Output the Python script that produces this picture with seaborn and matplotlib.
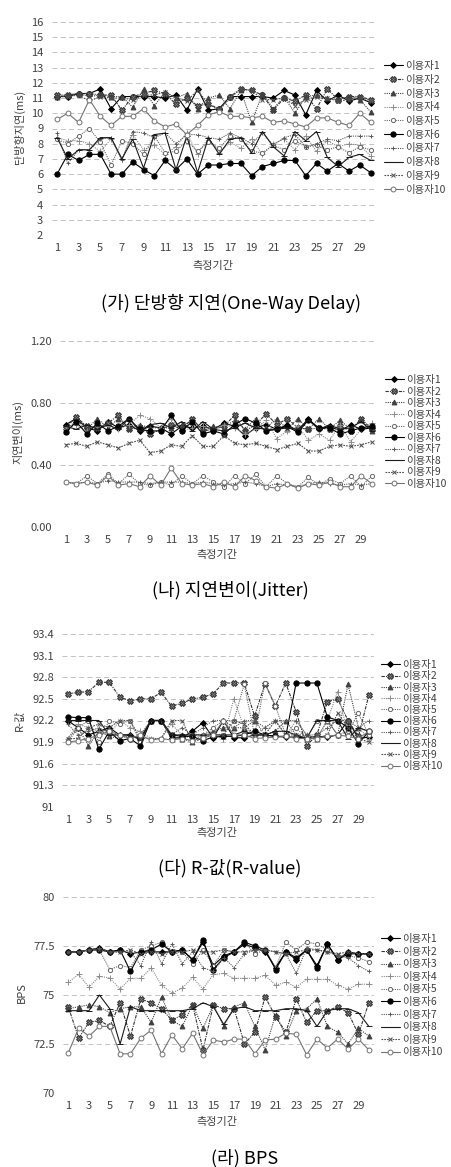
import numpy as np
import pandas as pd
import seaborn as sns
import matplotlib
matplotlib.use("Agg")
import matplotlib.pyplot as plt
from matplotlib.ticker import FixedLocator, FuncFormatter

sns.set_theme(style="white")
plt.rcParams['font.family'] = ['Noto Sans CJK KR', 'DejaVu Sans']

periods = list(range(1, 31))
users = [f"이용자{i}" for i in range(1, 11)]
xtick_labels = [str(v) for v in range(1, 30, 2)]

# ---- (가) One-way delay (ms)
delay1 = [11.1,11.1,11.3,11.3,11.6,10.3,11.1,11.1,11.1,11.1,11.0,11.2,10.2,11.6,10.2,10.3,11.1,11.1,11.1,11.1,11.0,11.5,11.2,9.9,11.5,10.8,11.2,10.8,11.0,10.7]
delay2 = [11.2,11.2,11.3,11.3,11.2,11.2,10.2,11.1,11.3,11.5,11.3,10.6,11.0,10.5,10.6,10.3,11.1,11.6,11.5,11.2,10.2,11.0,10.8,11.2,10.3,11.6,10.9,11.1,11.1,10.9]
delay3 = [11.1,11.2,11.3,11.1,11.2,11.1,11.1,10.4,11.6,10.5,11.4,11.0,11.3,10.3,11.0,11.2,10.3,11.5,9.4,11.3,10.3,11.1,10.0,11.1,11.2,11.0,10.9,11.1,10.9,10.1]
delay4 = [8.4,8.2,8.2,8.0,7.5,8.3,7.0,8.6,7.6,7.9,7.3,7.8,8.7,7.3,8.4,7.4,8.1,7.7,8.3,7.3,8.0,8.3,7.6,8.5,7.5,8.2,7.8,8.0,7.9,7.2]
delay5 = [8.3,8.0,8.5,9.0,8.1,6.6,8.2,8.0,7.3,8.5,7.4,7.5,8.2,7.5,8.1,7.7,8.5,8.3,7.5,7.4,7.9,7.6,8.2,7.8,7.9,7.6,7.8,7.4,7.8,7.6]
delay6 = [6.0,7.3,6.9,7.3,7.3,6.0,6.0,6.8,6.3,5.9,6.9,6.3,7.0,6.0,6.6,6.6,6.7,6.7,5.9,6.5,6.7,6.9,6.9,5.9,6.7,6.2,6.7,6.2,6.6,6.1]
delay7 = [8.7,6.7,7.6,7.6,8.3,8.4,6.9,8.8,8.7,8.4,8.7,8.0,8.6,8.6,8.4,8.3,8.7,8.4,8.0,8.7,7.9,8.4,8.6,7.8,8.0,8.3,8.2,8.5,8.5,8.5]
delay8 = [8.4,7.0,7.6,7.6,8.4,8.4,7.0,8.3,6.4,8.6,8.7,6.3,8.5,6.1,8.4,7.3,8.3,8.4,7.4,8.8,7.8,7.2,8.8,8.2,8.8,7.1,6.5,7.1,7.3,6.9]
delay9 = [11.1,11.1,11.2,10.8,11.1,11.0,11.0,10.9,11.2,11.2,11.4,11.0,10.8,11.5,10.6,10.2,11.0,11.6,11.5,10.9,10.9,11.0,10.5,10.9,11.1,11.0,10.8,10.9,11.1,10.8]
delay10 = [9.6,10.0,9.4,10.9,9.8,9.2,9.8,9.8,10.3,9.5,9.1,9.3,8.6,9.2,9.9,10.1,9.8,9.8,9.7,9.8,9.4,9.5,9.3,9.1,9.7,9.7,9.4,9.2,10.0,9.4]

# ---- (나) Jitter (ms)
jit1 = [0.66,0.70,0.64,0.62,0.68,0.64,0.66,0.62,0.65,0.64,0.60,0.65,0.64,0.65,0.63,0.67,0.65,0.59,0.64,0.66,0.63,0.66,0.62,0.70,0.63,0.65,0.62,0.66,0.63,0.64]
jit2 = [0.64,0.71,0.65,0.64,0.67,0.72,0.63,0.64,0.60,0.63,0.66,0.63,0.70,0.62,0.63,0.65,0.72,0.62,0.66,0.73,0.66,0.70,0.64,0.63,0.64,0.63,0.65,0.62,0.70,0.63]
jit3 = [0.62,0.69,0.63,0.70,0.64,0.70,0.64,0.66,0.64,0.64,0.64,0.66,0.68,0.62,0.65,0.64,0.69,0.63,0.70,0.64,0.70,0.63,0.70,0.63,0.70,0.63,0.69,0.63,0.69,0.62]
jit4 = [0.63,0.66,0.62,0.66,0.65,0.63,0.66,0.72,0.70,0.64,0.70,0.62,0.64,0.65,0.62,0.66,0.64,0.60,0.63,0.69,0.57,0.62,0.65,0.56,0.60,0.56,0.66,0.55,0.63,0.67]
jit5 = [0.29,0.28,0.33,0.28,0.34,0.28,0.34,0.28,0.27,0.29,0.27,0.33,0.28,0.33,0.29,0.26,0.33,0.28,0.34,0.26,0.33,0.28,0.26,0.32,0.27,0.31,0.28,0.33,0.26,0.33]
jit6 = [0.61,0.68,0.60,0.67,0.62,0.65,0.70,0.63,0.62,0.62,0.72,0.62,0.68,0.60,0.62,0.60,0.66,0.70,0.67,0.62,0.63,0.65,0.61,0.69,0.64,0.64,0.60,0.62,0.64,0.65]
jit7 = [0.29,0.28,0.29,0.28,0.30,0.29,0.29,0.29,0.28,0.29,0.29,0.29,0.28,0.29,0.28,0.27,0.28,0.29,0.28,0.26,0.28,0.27,0.26,0.28,0.29,0.28,0.27,0.28,0.27,0.28]
jit8 = [0.65,0.63,0.66,0.63,0.66,0.63,0.70,0.62,0.66,0.67,0.64,0.68,0.62,0.68,0.63,0.62,0.64,0.67,0.64,0.63,0.63,0.64,0.63,0.69,0.63,0.66,0.63,0.64,0.68,0.62]
jit9 = [0.53,0.54,0.52,0.55,0.53,0.51,0.54,0.56,0.48,0.49,0.53,0.52,0.59,0.52,0.52,0.59,0.54,0.53,0.54,0.52,0.50,0.52,0.54,0.49,0.49,0.52,0.53,0.52,0.53,0.55]
jit10 = [0.29,0.28,0.29,0.27,0.33,0.27,0.28,0.26,0.33,0.27,0.38,0.28,0.27,0.28,0.26,0.29,0.26,0.33,0.30,0.26,0.25,0.28,0.25,0.28,0.27,0.29,0.26,0.26,0.33,0.28]

# ---- (다) R-value
rv1 = [92.2,92.1,92.0,92.05,92.1,92.0,92.0,91.95,92.2,92.2,91.96,91.96,92.05,92.17,91.96,92.2,91.96,91.96,92.0,92.0,91.98,91.97,91.97,91.96,91.98,91.97,92.0,92.2,91.95,91.97]
rv2 = [92.57,92.59,92.6,92.73,92.73,92.53,92.47,92.5,92.5,92.59,92.4,92.44,92.5,92.52,92.57,92.72,92.72,92.72,92.26,92.71,92.4,92.72,92.32,91.85,92.0,92.46,92.5,92.2,91.98,92.55]
rv3 = [91.95,92.1,91.85,92.05,91.98,91.95,92.0,91.95,92.2,92.2,91.95,91.95,91.9,92.0,92.05,92.1,92.1,92.1,92.2,92.0,92.05,92.2,92.0,91.95,91.95,92.2,92.0,92.7,92.1,92.05]
rv4 = [91.95,92.15,92.1,92.05,92.0,92.2,92.1,92.05,91.95,91.95,92.15,92.0,91.95,92.0,91.98,91.95,92.5,92.1,92.0,92.1,92.2,91.98,92.2,92.0,91.95,92.2,92.6,92.0,92.1,91.95]
rv5 = [91.9,92.1,92.2,91.9,92.2,92.15,92.2,91.9,92.2,92.2,91.95,91.95,92.0,92.0,92.1,92.2,92.2,92.7,92.0,92.72,92.4,92.0,92.1,91.95,92.2,92.2,92.0,92.05,92.3,92.0]
rv6 = [92.25,92.24,92.24,91.8,92.05,91.92,91.95,91.85,92.2,92.2,92.0,91.98,91.98,91.92,91.97,91.98,91.98,92.0,92.05,92.0,91.98,91.98,92.72,92.72,92.72,92.25,92.2,92.1,91.88,92.05]
rv7 = [92.15,92.0,92.05,92.1,92.0,92.0,91.95,92.0,92.2,92.2,92.0,92.1,92.0,92.1,92.2,92.2,92.1,92.2,92.2,92.1,92.2,92.2,92.2,92.0,92.0,92.1,92.2,92.2,92.1,92.2]
rv8 = [92.2,92.2,92.2,92.2,92.0,92.0,92.0,91.93,92.2,92.2,92.0,92.0,92.0,92.0,92.0,92.0,92.0,92.05,92.0,92.0,92.05,92.05,92.0,91.95,92.2,92.2,92.2,91.95,92.1,92.05]
rv9 = [91.95,91.95,92.1,92.15,92.1,92.2,92.2,91.95,91.95,91.95,92.2,92.2,91.9,91.95,92.0,92.0,92.2,92.15,92.0,92.0,92.2,92.0,92.0,92.0,91.95,92.0,92.3,92.1,91.95,91.9]
rv10 = [91.9,91.92,91.95,92.0,92.05,92.0,91.95,92.0,91.93,91.95,91.93,91.95,91.92,91.96,92.0,92.2,92.0,92.0,91.95,91.96,91.97,91.98,91.95,91.95,91.95,91.98,92.0,91.98,91.95,92.05]

# ---- (라) BPS
bps1 = [77.2,77.2,77.3,77.4,77.2,77.3,77.1,77.2,77.2,77.2,77.2,77.3,76.8,77.7,76.5,77.0,77.2,77.6,77.4,77.2,76.4,77.2,76.8,77.3,76.5,77.6,76.8,77.2,77.1,77.1]
bps2 = [74.4,72.8,73.6,73.7,73.4,74.6,72.9,74.8,74.6,74.3,73.7,74.0,74.5,72.2,74.5,74.3,74.3,72.5,73.1,74.9,73.9,73.1,74.8,73.6,74.2,74.2,74.4,74.1,73.0,74.6]
bps3 = [74.3,74.4,74.5,74.4,74.1,74.3,74.4,74.4,73.6,74.9,73.7,73.4,74.5,73.3,74.5,73.4,74.4,74.6,73.4,72.2,74.0,72.9,74.2,74.3,74.8,73.4,73.1,72.5,73.3,72.9]
bps4 = [75.65,76.05,75.4,75.95,75.87,75.3,75.85,75.85,76.38,75.5,75.1,75.35,75.9,75.3,76.05,76.1,75.85,75.85,75.85,76.0,75.5,75.65,75.4,75.8,75.8,75.8,75.5,75.3,75.55,75.55]
bps5 = [77.2,77.2,77.3,77.3,76.3,76.5,76.4,77.3,77.5,77.7,77.2,77.2,76.6,77.3,76.5,77.3,77.2,77.7,77.1,77.3,76.4,77.7,77.3,77.7,77.6,77.3,77.0,77.0,76.9,76.7]
bps6 = [77.2,77.2,77.3,77.3,77.2,77.3,76.2,77.2,77.3,77.6,77.2,77.3,76.8,77.8,76.3,76.9,77.2,77.7,77.5,77.3,76.3,77.2,76.9,77.3,76.4,77.6,76.8,77.1,77.1,77.1]
bps7 = [77.2,77.2,77.3,77.4,77.2,77.2,77.2,76.5,77.7,76.6,77.6,76.6,77.2,76.4,76.2,76.9,76.4,77.1,77.3,77.3,77.2,77.1,76.1,77.4,77.3,77.2,77.0,76.9,76.5,76.2]
bps8 = [74.2,74.2,74.2,75.0,74.3,72.5,74.4,74.2,74.2,74.2,74.2,74.2,74.3,74.6,74.4,73.5,74.3,74.4,74.2,74.2,74.2,74.3,74.3,74.2,73.4,74.2,74.3,74.3,74.1,73.4]
bps9 = [77.2,77.2,77.3,77.3,77.2,77.2,77.3,77.1,77.2,77.1,77.2,77.2,77.3,77.2,77.2,77.3,77.2,77.2,77.3,77.3,77.2,77.1,77.2,77.3,77.3,77.2,77.1,77.2,77.1,77.1]
bps10 = [72.05,73.3,72.9,73.4,73.4,72.0,72.0,72.8,73.2,72.0,72.97,72.25,73.05,71.95,72.7,72.6,72.75,72.75,72.0,72.7,72.75,73.05,73.0,71.95,72.75,72.3,72.75,72.25,72.75,72.2]

panels = [
    dict(series=[delay1,delay2,delay3,delay4,delay5,delay6,delay7,delay8,delay9,delay10],
         ylim=(2, 16), yticks=list(range(2, 17)), fmt=lambda v: f"{v:.0f}",
         ylabel="단방향지연(ms)", caption="(가) 단방향 지연(One-Way Delay)",
         box=(51.6, 22, 376, 235), leg=(384, 61), spacing=0.36, cap=(231, 303),
         xl=(213, 266), yl=(19, 127), lfs=7.5),
    dict(series=[jit1,jit2,jit3,jit4,jit5,jit6,jit7,jit8,jit9,jit10],
         ylim=(0, 1.2), yticks=[0, 0.4, 0.8, 1.2], fmt=lambda v: f"{v:.2f}",
         ylabel="지연변이(ms)", caption="(나) 지연변이(Jitter)",
         box=(60.4, 341, 377, 527), leg=(385, 375), spacing=0.15, cap=(230, 590),
         xl=(217, 555), yl=(18, 432), lfs=7.5),
    dict(series=[rv1,rv2,rv3,rv4,rv5,rv6,rv7,rv8,rv9,rv10],
         ylim=(91, 93.4), yticks=[91, 91.3, 91.6, 91.9, 92.2, 92.5, 92.8, 93.1, 93.4],
         fmt=lambda v: f"{v:g}",
         ylabel="R-값", caption="(다) R-값(R-value)",
         box=(62.5, 634, 374, 807), leg=(381, 660), spacing=0.12, cap=(230, 868),
         xl=(217, 833), yl=(20, 720), lfs=7.5),
    dict(series=[bps1,bps2,bps3,bps4,bps5,bps6,bps7,bps8,bps9,bps10],
         ylim=(70, 80), yticks=[70, 72.5, 75, 77.5, 80], fmt=lambda v: f"{v:g}",
         ylabel="BPS", caption="(라) BPS",
         box=(63.1, 897, 374, 1093), leg=(381, 934), spacing=0.25, cap=(245, 1158),
         xl=(217, 1122), yl=(22, 993), lfs=7.5),
]

styles = [
    dict(color="black", linestyle="-", marker="D", ms=3, mfc="black"),
    dict(color="0.2", linestyle=(0, (3, 1, 1, 1)), marker="X", ms=4, mfc="0.5"),
    dict(color="0.25", linestyle=(0, (1, 1)), marker="^", ms=3.5, mfc="0.25"),
    dict(color="0.55", linestyle=(0, (1, 1)), marker="+", ms=4, mfc="0.55"),
    dict(color="0.4", linestyle=(0, (1, 1)), marker="o", ms=3, mfc="white"),
    dict(color="black", linestyle="-", marker="o", ms=3.8, mfc="black"),
    dict(color="0.35", linestyle=(0, (1, 1)), marker="+", ms=3, mfc="0.35"),
    dict(color="0.1", linestyle="-", marker="_", ms=5, mfc="0.1"),
    dict(color="0.3", linestyle=(0, (1.5, 1)), marker="x", ms=3, mfc="0.3"),
    dict(color="0.45", linestyle="-", marker="o", ms=3.5, mfc="white"),
]

W, H = 452, 1167
fig = plt.figure(figsize=(W / 100, H / 100), dpi=100)
fig.patch.set_facecolor("white")

for p in panels:
    x0, y0, x1, y1 = p["box"]
    ax = fig.add_axes([x0 / W, 1 - y1 / H, (x1 - x0) / W, (y1 - y0) / H])
    for user, vals, st in zip(users, p["series"], styles):
        df = pd.DataFrame({"기간": periods, "값": vals})
        sns.lineplot(data=df, x="기간", y="값", ax=ax, label=user, errorbar=None,
                     color=st["color"], linestyle=st["linestyle"], linewidth=0.8,
                     marker=st["marker"], markersize=st["ms"],
                     markerfacecolor=st["mfc"], markeredgecolor=st["color"],
                     markeredgewidth=0.7)
    ax.set_xlim(0.5, 30.5)
    ax.set_ylim(*p["ylim"])
    ax.xaxis.set_major_locator(FixedLocator(list(range(1, 30, 2))))
    ax.set_xticklabels(xtick_labels)
    ax.yaxis.set_major_locator(FixedLocator(p["yticks"]))
    ax.yaxis.set_major_formatter(FuncFormatter(lambda v, pos, f=p["fmt"]: f(v)))
    ax.tick_params(axis="both", length=0, labelsize=8, colors="0.25", pad=6)
    ax.grid(axis="y", color="0.72", linestyle=(0, (6, 4)), linewidth=0.6)
    ax.grid(axis="x", visible=False)
    for s in ax.spines.values():
        s.set_visible(False)
    ax.set_xlabel("")
    ax.set_ylabel("")
    fig.text(p["yl"][0] / W, 1 - p["yl"][1] / H, p["ylabel"], rotation=90,
             ha="center", va="center", fontsize=8, color="0.25")
    fig.text(p["xl"][0] / W, 1 - p["xl"][1] / H, "측정기간",
             ha="center", va="center", fontsize=8, color="0.25")
    fig.text(p["cap"][0] / W, 1 - p["cap"][1] / H, p["caption"],
             ha="center", va="center", fontsize=13, color="black")
    handles, labels = ax.get_legend_handles_labels()
    ax.legend(handles, labels, loc="upper left",
              bbox_to_anchor=(p["leg"][0] / W, 1 - p["leg"][1] / H),
              bbox_transform=fig.transFigure, frameon=False, fontsize=p["lfs"],
              handlelength=1.8, handletextpad=0.2, labelspacing=p["spacing"],
              borderaxespad=0, borderpad=0, labelcolor="0.25")

fig.savefig("out.png", dpi=100, facecolor="white")
